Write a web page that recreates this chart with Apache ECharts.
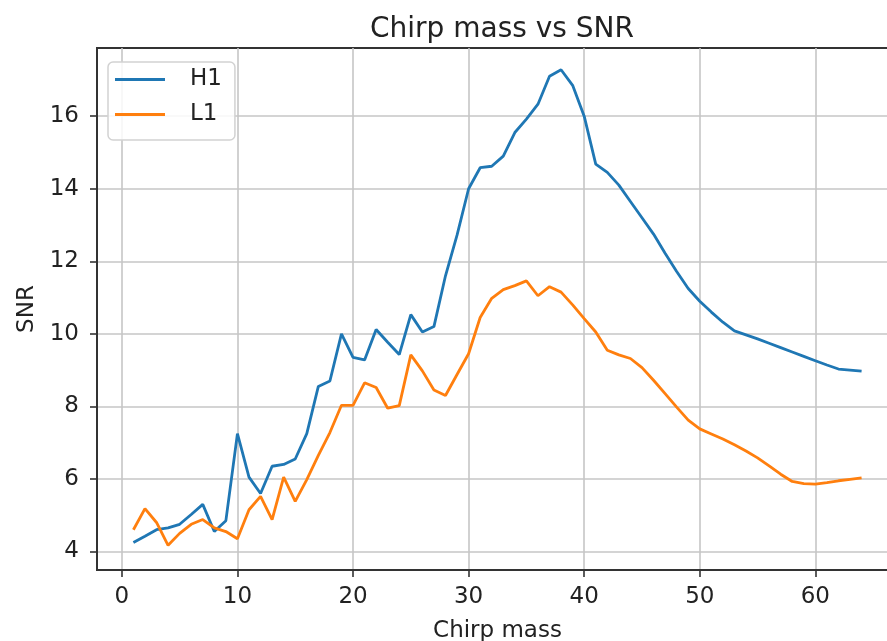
<!DOCTYPE html>
<html>
<head>
<meta charset="utf-8">
<script src="https://cdn.jsdelivr.net/npm/echarts@6/dist/echarts.min.js"></script>
<style>
html,body{margin:0;padding:0;background:#fff;}
#chart{width:887px;height:641px;}
</style>
</head>
<body>
<div id="chart"></div>
<script>
// ---- data ----
const chirpMass = [1,2,3,4,5,6,7,8,9,10,11,12,13,14,15,16,17,18,19,20,21,22,23,24,25,26,27,28,29,30,31,32,33,34,35,36,37,38,39,40,41,42,43,44,45,46,47,48,49,50,51,52,53,54,55,56,57,58,59,60,61,62,63,64];
const snrH1 = [4.25,4.42,4.6,4.65,4.75,5.02,5.3,4.55,4.85,7.25,6.05,5.6,6.35,6.4,6.55,7.25,8.55,8.7,10.0,9.35,9.28,10.12,9.77,9.43,10.53,10.05,10.2,11.6,12.72,14.0,14.58,14.62,14.9,15.55,15.92,16.33,17.1,17.28,16.85,16.0,14.68,14.45,14.1,13.65,13.2,12.75,12.22,11.72,11.25,10.9,10.6,10.32,10.08,9.97,9.86,9.74,9.62,9.5,9.38,9.26,9.14,9.03,9.0,8.97];
const snrL1 = [4.6,5.18,4.8,4.17,4.5,4.75,4.88,4.65,4.55,4.35,5.15,5.52,4.88,6.05,5.38,5.98,6.65,7.28,8.03,8.03,8.65,8.52,7.95,8.02,9.42,8.98,8.45,8.3,8.88,9.45,10.45,10.98,11.22,11.33,11.46,11.05,11.3,11.15,10.8,10.42,10.05,9.55,9.42,9.32,9.07,8.72,8.35,7.98,7.62,7.38,7.24,7.1,6.94,6.77,6.58,6.36,6.13,5.93,5.87,5.86,5.9,5.95,5.99,6.03];
const seriesNames = ['H1', 'L1'];
const xTickValues = [0,10,20,30,40,50,60];
const yTickValues = [4,6,8,10,12,14,16];
const titleText = 'Chirp mass vs SNR';
const xAxisName = 'Chirp mass';
const yAxisName = 'SNR';

// ---- chart ----
const FONT = 'DejaVu Sans';
const TXT = '#222';
const chart = echarts.init(document.getElementById('chart'), null, {renderer: 'canvas'});
const pairs = (ys) => chirpMass.map((x, i) => [x, ys[i]]);

chart.setOption({
  animation: false,
  backgroundColor: '#fff',
  title: {
    text: titleText,
    left: 497, top: 11,
    textAlign: 'center',
    textStyle: {fontFamily: FONT, fontSize: 28, fontWeight: 'normal', color: TXT}
  },
  legend: {
    data: seriesNames,
    orient: 'vertical',
    left: 108, top: 62,
    icon: 'rect', itemWidth: 50, itemHeight: 3,
    itemGap: 12,
    padding: [6, 13, 14, 7],
    backgroundColor: 'rgba(255,255,255,0.85)',
    borderColor: '#d2d2d2', borderWidth: 1.5, borderRadius: 5,
    textStyle: {fontFamily: FONT, fontSize: 23, color: TXT, padding: [0, 0, 0, 20]}
  },
  grid: {
    left: 97, width: 801, top: 48, height: 522,
    outerBoundsMode: 'none',
    containLabel: false,
    show: true, borderColor: '#333', borderWidth: 2, backgroundColor: 'transparent'
  },
  xAxis: {
    type: 'value',
    min: -2.15, max: 67.15,
    name: xAxisName, nameLocation: 'middle', nameGap: 50,
    nameTextStyle: {fontFamily: FONT, fontSize: 23, color: TXT},
    axisLine: {show: true, onZero: false, lineStyle: {color: '#333', width: 2}},
    axisTick: {show: true, inside: false, length: 7, customValues: xTickValues, lineStyle: {color: '#333', width: 1.6}},
    axisLabel: {customValues: xTickValues, margin: 16, fontFamily: FONT, fontSize: 23, color: TXT},
    splitLine: {show: true, lineStyle: {color: '#c6c6c6', width: 1.6}}
  },
  yAxis: {
    type: 'value',
    min: 3.49, max: 17.88,
    name: yAxisName, nameLocation: 'middle', nameGap: 51, nameRotate: 90,
    nameTextStyle: {fontFamily: FONT, fontSize: 23, color: TXT},
    axisLine: {show: true, onZero: false, lineStyle: {color: '#333', width: 2}},
    axisTick: {show: true, inside: false, length: 7, customValues: yTickValues, lineStyle: {color: '#333', width: 1.6}},
    axisLabel: {customValues: yTickValues, margin: 18, fontFamily: FONT, fontSize: 23, color: TXT},
    splitLine: {show: true, lineStyle: {color: '#c6c6c6', width: 1.6}}
  },
  series: [
    {name: seriesNames[0], type: 'line', data: pairs(snrH1), symbol: 'none', showSymbol: false,
     itemStyle: {color: '#1f77b4'}, lineStyle: {color: '#1f77b4', width: 2.8}, z: 3},
    {name: seriesNames[1], type: 'line', data: pairs(snrL1), symbol: 'none', showSymbol: false,
     itemStyle: {color: '#ff7f0e'}, lineStyle: {color: '#ff7f0e', width: 2.8}, z: 4}
  ]
});
</script>
</body>
</html>
